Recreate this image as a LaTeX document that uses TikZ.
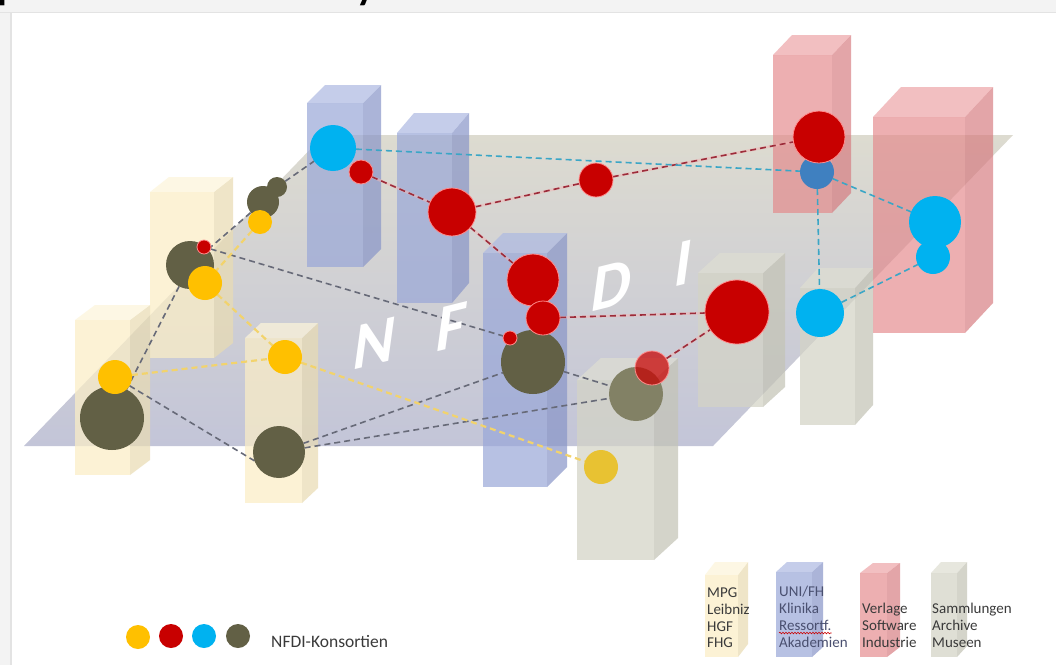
\documentclass[tikz,border=0pt]{standalone}
\usepackage{fontspec}
\setmainfont{Carlito}
\usetikzlibrary{decorations.pathmorphing}
\pgfdeclarelayer{boxes}
\pgfdeclarelayer{links}
\pgfsetlayers{boxes,links,main}

\definecolor{cYel}{HTML}{FFC000}
\definecolor{cRed}{HTML}{C80000}
\definecolor{cCya}{HTML}{00B2F0}
\definecolor{cOli}{HTML}{626045}
\definecolor{planeT}{HTML}{DDDBD0}
\definecolor{planeB}{HTML}{C3C5D8}
\definecolor{stripC}{HTML}{F3F3F3}
\definecolor{stripL}{HTML}{E3E3E3}
\definecolor{legTxt}{HTML}{3A3A3A}
\def\mkhtml#1{\definecolor{HTML#1}{HTML}{#1}}
\mkhtml{FBEEC6}\mkhtml{E9DCB3}\mkhtml{FDF5DA}
\mkhtml{99A7D8}\mkhtml{8895C8}\mkhtml{ADB9E2}
\mkhtml{E48689}\mkhtml{D6777C}\mkhtml{EC9FA2}
\mkhtml{D4D4C6}\mkhtml{C4C4B6}\mkhtml{DEDED2}
\mkhtml{676A78}\mkhtml{F2D36C}\mkhtml{9C2C3A}\mkhtml{F2B4B4}\mkhtml{3BA6C6}
\mkhtml{E8C232}\mkhtml{828165}\mkhtml{3F80C0}\mkhtml{4A5070}

\tikzset{
  ball/.style={circle, inner sep=0pt, outer sep=0pt, minimum size=#1},
  yball/.style={ball=#1, fill=cYel},
  oball/.style={ball=#1, fill=cOli},
  rball/.style={ball=#1, fill=cRed, draw=red!45!white, line width=0.8pt},
  cball/.style={ball=#1, fill=cCya},
  boxYf/.style={fill=HTMLFBEEC6, fill opacity=0.72},
  boxYs/.style={fill=HTMLE9DCB3, fill opacity=0.72},
  boxYt/.style={fill=HTMLFDF5DA, fill opacity=0.72},
  boxBf/.style={fill=HTML99A7D8, fill opacity=0.7},
  boxBs/.style={fill=HTML8895C8, fill opacity=0.7},
  boxBt/.style={fill=HTMLADB9E2, fill opacity=0.7},
  boxRf/.style={fill=HTMLE48689, fill opacity=0.66},
  boxRs/.style={fill=HTMLD6777C, fill opacity=0.66},
  boxRt/.style={fill=HTMLEC9FA2, fill opacity=0.66},
  boxGf/.style={fill=HTMLD4D4C6, fill opacity=0.72},
  boxGs/.style={fill=HTMLC4C4B6, fill opacity=0.72},
  boxGt/.style={fill=HTMLDEDED2, fill opacity=0.72},
  gline/.style={draw=HTML676A78, line width=1.6pt, dash pattern=on 6pt off 4pt},
  yline/.style={draw=HTMLF2D36C, line width=2.2pt, dash pattern=on 6pt off 4pt},
  rline/.style={draw=HTML9C2C3A, line width=1.6pt, dash pattern=on 6pt off 4pt,
     preaction={draw=HTMLF2B4B4, line width=2.6pt, solid, opacity=0.5}},
  cline/.style={draw=HTML3BA6C6, line width=1.6pt, dash pattern=on 6pt off 4pt},
  nfdi/.style={text=white, inner sep=0pt, font=\fontsize{64}{64}\selectfont\bfseries},
  legtext/.style={anchor=base west, inner sep=0pt, text=legTxt, font=\fontsize{15}{18}\selectfont},
}

% cuboid: x1 x2 ytop ybot dx dy style-letter
\newcommand{\cuboid}[7]{%
  \fill[box#7f] (#1,#3) rectangle (#2,#4);
  \fill[box#7s] (#2,#3) -- ++(#5,-#6) -- ++(0,#4-#3) -- (#2,#4) -- cycle;
  \fill[box#7t] (#1,#3) -- ++(#5,-#6) -- ++(#2-#1,0) -- (#2,#3) -- cycle;
}

\begin{document}
\begin{tikzpicture}[x=1pt,y=-1pt]
\useasboundingbox (0,0) rectangle (1056,665);

\begin{pgfonlayer}{boxes}
  \fill[white] (0,0) rectangle (1056,665);
  \fill[stripC] (0,0) rectangle (1056,12);
  \fill[stripC] (0,12) rectangle (11,665);
  \draw[stripL, line width=1pt] (0,12) -- (1056,12);
  \draw[stripL, line width=1.5pt] (11,12) -- (11,665);
  \shade[top color=planeT, bottom color=planeB] (24,446) -- (324,135) -- (1013,135) -- (713,446) -- cycle;
  \cuboid{307}{363}{103}{267}{18}{18}{B}
  \cuboid{397}{452}{133}{303}{17}{20}{B}
  \cuboid{773}{832}{55}{213}{19}{20}{R}
  \cuboid{873}{965}{117}{333}{28}{30}{R}
  \cuboid{698}{763}{273}{407}{22}{20}{G}
  \cuboid{800}{855}{288}{425}{18}{20}{G}
  \cuboid{150}{214}{192}{358}{19}{15}{Y}
  \cuboid{75}{130}{320}{475}{20}{15}{Y}
  \cuboid{245}{302}{338}{503}{16}{15}{Y}
  \cuboid{483}{547}{253}{487}{20}{20}{B}
  \cuboid{577}{654}{380}{560}{24}{22}{G}
  \cuboid{705}{738}{575}{657}{10}{13}{Y}
  \cuboid{776}{812}{572}{657}{11}{10}{B}
  \cuboid{860}{887}{573}{657}{13}{10}{R}
  \cuboid{931}{957}{573}{657}{10}{11}{G}
\end{pgfonlayer}

\node[anchor=base west, inner sep=0pt, font=\fontsize{40}{40}\selectfont\bfseries] (tp) at (-3,-1) {p};
\node[anchor=base west, inner sep=0pt, font=\fontsize{40}{40}\selectfont\bfseries] (ty) at (356,-1) {y};

\node[nfdi, rotate=14, xslant=0.4] (lN) at (375,343) {N};
\node[nfdi, rotate=14, xslant=0.4] (lF) at (452,327) {F};
\node[nfdi, rotate=14, xslant=0.4] (lD) at (612,285) {D};
\node[nfdi, rotate=14, xslant=0.4] (lI) at (684,263) {I};

\node[oball=20] (ob) at (277,187) {};
\node[oball=32] (oa) at (263,202) {};
\node[yball=24] (ya) at (260,222) {};
\node[oball=48] (oc) at (190,265) {};
\node[yball=34] (yb) at (205,283) {};
\node[rball=14] (rg) at (204,247) {};
\node[oball=64] (od) at (112,418) {};
\node[yball=34] (yc) at (115,377) {};
\node[yball=34] (yd) at (285,357) {};
\node[oball=52] (oe) at (279,452) {};
\node[ball=34, fill=HTMLE8C232] (ye) at (601,467) {};
\node[oball=64] (of) at (533,362) {};
\node[ball=54, fill=HTML828165] (og) at (636,394) {};
\node[rball=34, fill opacity=0.72] (ri) at (652,368) {};
\node[cball=46] (ca) at (333,148) {};
\node[rball=24] (ra) at (361,172) {};
\node[rball=48] (rb) at (452,212) {};
\node[rball=34] (rc) at (596,180) {};
\node[rball=52] (rd) at (533,280) {};
\node[rball=34] (re) at (543,318) {};
\node[rball=14] (rf) at (510,338) {};
\node[rball=64] (rh) at (737,312) {};
\node[ball=34, fill=HTML3F80C0] (cb) at (817,172) {};
\node[rball=52] (rj) at (819,137) {};
\node[cball=34] (cd) at (933,257) {};
\node[cball=52] (cc) at (935,222) {};
\node[cball=48] (ce) at (820,313) {};

\begin{pgfonlayer}{links}
  \draw[gline] (ob) -- (ca);
  \draw[gline] (oc) -- (oa);
  \draw[gline] (rg) -- (rf);
  \draw[gline] (oc) -- (od);
  \draw[gline] (yc) -- (oe.200);
  \draw[gline] (oe) -- (of);
  \draw[gline] (oe) -- (og);
  \draw[gline] (of) -- (og);
  \draw[yline] (ya) -- (yb);
  \draw[yline] (yb) -- (yd);
  \draw[yline] (yc) -- (yd);
  \draw[yline] (yd) -- (ye);
  \draw[rline] (ra) -- (rb);
  \draw[rline] (rb) -- (rc);
  \draw[rline] (rc) -- (rj);
  \draw[rline] (rb) -- (rd);
  \draw[rline] (re) -- (rh);
  \draw[rline] (ri) -- (rh);
  \draw[cline] (ca) -- (cb);
  \draw[cline] (cb) -- (cc);
  \draw[cline] (cb) -- (ce);
  \draw[cline] (ce) -- (cd);
\end{pgfonlayer}

\node[yball=24] (lya) at (138,637) {};
\node[ball=24, fill=cRed] (lra) at (171,636) {};
\node[cball=24] (lca) at (204,636) {};
\node[oball=24] (loa) at (238,636) {};
\node[legtext, font=\fontsize{17.5}{20}\selectfont] (lkon) at (271,647) {NFDI-Konsortien};

\node[legtext] (t1) at (707,597) {MPG};
\node[legtext] (t2) at (707,614) {Leibniz};
\node[legtext] (t3) at (707,631) {HGF};
\node[legtext] (t4) at (707,647) {FHG};
\node[legtext, text=HTML4A5070] (t5) at (779,596) {UNI/FH};
\node[legtext, text=HTML4A5070] (t6) at (779,613) {Klinika};
\node[legtext, text=HTML4A5070] (t7) at (779,630) {Ressortf.};
\node[legtext, text=HTML4A5070] (t8) at (779,647) {Akademien};
\node[legtext] (t9) at (862,613) {Verlage};
\node[legtext] (t10) at (862,630) {Software};
\node[legtext] (t11) at (862,647) {Industrie};
\node[legtext] (t12) at (932,613) {Sammlungen};
\node[legtext] (t13) at (932,630) {Archive};
\node[legtext] (t14) at (932,647) {Museen};
\draw[red!80!black, line width=0.6pt, decorate, decoration={snake, amplitude=0.8pt, segment length=3pt}]
  ([yshift=-3pt]t7.base west) -- ([yshift=-3pt]t7.base east);
\end{tikzpicture}
\end{document}
